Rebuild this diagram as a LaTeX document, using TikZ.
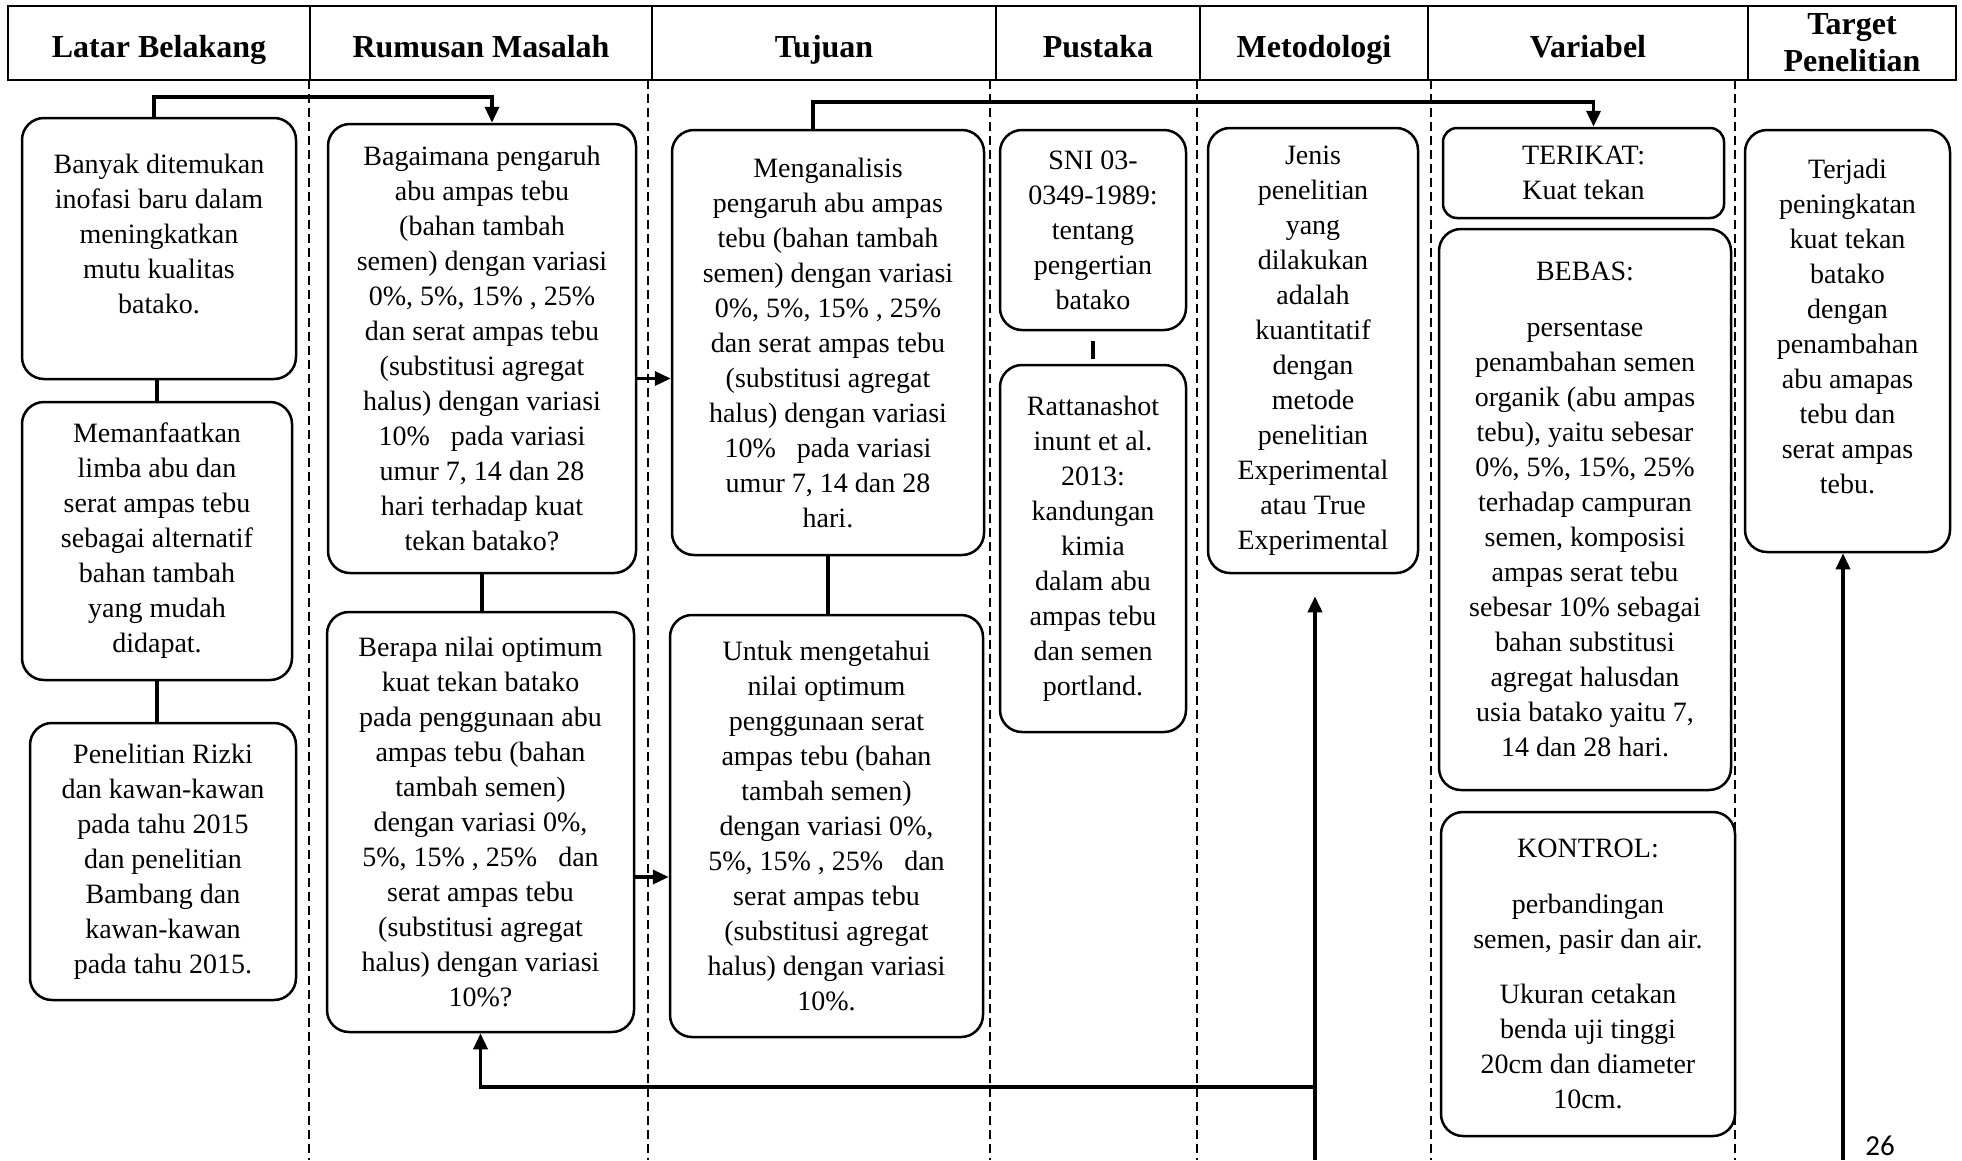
\documentclass[tikz,border=0pt]{standalone}
\usepackage{fontspec}
\setmainfont{Liberation Serif}
\newfontfamily\pagefont{Carlito}
\usetikzlibrary{arrows.meta}

\begin{document}
\begin{tikzpicture}[x=1pt, y=-1pt,
	headbase/.style={draw, line width=2.5pt, inner sep=0pt, minimum height=74pt, align=center, font=\fontsize{32}{37}\selectfont\bfseries},
	head/.style={headbase, text height=32pt, text depth=4pt},
	box/.style={draw, line width=2.5pt, rounded corners=22pt, inner sep=0pt, align=center, font=\fontsize{28}{35}\selectfont},
	link/.style={line width=3.5pt},
	conn/.style={line width=3.5pt, -{Triangle[length=16pt, width=14pt]}},
	col/.style={line width=1.5pt, dash pattern=on 9pt off 5pt}]
	\useasboundingbox (0,0) rectangle (1962,1160);
	\foreach \x in {309,648,990,1197,1431,1735}
		\draw[col] (\x,80) -- (\x,1160);
	\node[head, minimum width=302pt] (hlb) at (159,43) {Latar Belakang};
	\node[head, minimum width=342pt] (hrm) at (481,43) {Rumusan Masalah};
	\node[head, minimum width=344pt] (htj) at (824,43) {Tujuan};
	\node[head, minimum width=204pt] (hpk) at (1098,43) {Pustaka};
	\node[head, minimum width=228pt] (hmt) at (1314,43) {Metodologi};
	\node[head, minimum width=320pt] (hvr) at (1588,43) {Variabel};
	\node[headbase, minimum width=208pt] (htg) at (1852,43) {Target\\Penelitian};
	\node[box, minimum width=274pt, minimum height=261pt] (lb1) at (159,248.5) {Banyak ditemukan\\inofasi baru dalam\\meningkatkan\\mutu kualitas\\batako.\\[-5pt]\mbox{}};
	\node[box, minimum width=270pt, minimum height=278pt] (lb2) at (157,541) {Memanfaatkan\\limba abu dan\\serat ampas tebu\\sebagai alternatif\\bahan tambah\\yang mudah\\didapat.};
	\node[box, minimum width=266pt, minimum height=277pt] (lb3) at (163,861.5) {Penelitian Rizki\\dan kawan-kawan\\pada tahu 2015\\dan penelitian\\Bambang dan\\kawan-kawan\\pada tahu 2015.};
	\node[box, minimum width=308pt, minimum height=449pt] (rm1) at (482,348.5) {Bagaimana pengaruh\\abu ampas tebu\\(bahan tambah\\semen) dengan variasi\\0\%, 5\%, 15\% , 25\%\\dan serat ampas tebu\\(substitusi agregat\\halus) dengan variasi\\10\%~~ pada variasi\\umur 7, 14 dan 28\\hari terhadap kuat\\tekan batako?};
	\node[box, minimum width=307pt, minimum height=420pt] (rm2) at (480.5,822) {Berapa nilai optimum\\kuat tekan batako\\pada penggunaan abu\\ampas tebu (bahan\\tambah semen)\\dengan variasi 0\%,\\5\%, 15\% , 25\%~~~dan\\serat ampas tebu\\(substitusi agregat\\halus) dengan variasi\\10\%?};
	\node[box, minimum width=312pt, minimum height=425pt] (tj1) at (828,342.5) {Menganalisis\\pengaruh abu ampas\\tebu (bahan tambah\\semen) dengan variasi\\0\%, 5\%, 15\% , 25\%\\dan serat ampas tebu\\(substitusi agregat\\halus) dengan variasi\\10\%~~ pada variasi\\umur 7, 14 dan 28\\hari.};
	\node[box, minimum width=313pt, minimum height=422pt] (tj2) at (826.5,826) {Untuk mengetahui\\nilai optimum\\penggunaan serat\\ampas tebu (bahan\\tambah semen)\\dengan variasi 0\%,\\5\%, 15\% , 25\%~~~dan\\serat ampas tebu\\(substitusi agregat\\halus) dengan variasi\\10\%.};
	\node[box, minimum width=186pt, minimum height=200pt] (pk1) at (1093,230) {SNI 03-\\0349-1989:\\tentang\\pengertian\\batako};
	\node[box, minimum width=186pt, minimum height=367pt] (pk2) at (1093,548.5) {Rattanashot\\inunt et al.\\2013:\\kandungan\\kimia\\dalam abu\\ampas tebu\\dan semen\\portland.};
	\node[box, minimum width=210pt, minimum height=445pt] (mt) at (1313,350.5) {Jenis\\penelitian\\yang\\dilakukan\\adalah\\kuantitatif\\dengan\\metode\\penelitian\\Experimental\\atau True\\Experimental};
	\node[box, rounded corners=14pt, minimum width=281pt, minimum height=90pt] (vr1) at (1583.5,173) {TERIKAT:\\Kuat tekan};
	\node[box, minimum width=292pt, minimum height=561pt] (vr2) at (1585,509.5) {BEBAS:\\[21pt]persentase\\penambahan semen\\organik (abu ampas\\tebu), yaitu sebesar\\0\%, 5\%, 15\%, 25\%\\terhadap campuran\\semen, komposisi\\ampas serat tebu\\sebesar 10\% sebagai\\bahan substitusi\\agregat halusdan\\usia batako yaitu 7,\\14 dan 28 hari.};
	\node[box, minimum width=294pt, minimum height=324pt] (vr3) at (1588,974) {KONTROL:\\[21pt]perbandingan\\semen, pasir dan air.\\[20pt]Ukuran cetakan\\benda uji tinggi\\20cm dan diameter\\10cm.};
	\node[box, minimum width=205pt, minimum height=422pt] (tg) at (1847.5,341) {Terjadi\\peningkatan\\kuat tekan\\batako\\dengan\\penambahan\\abu amapas\\tebu dan\\serat ampas\\tebu.\\[-5pt]\mbox{}};
	\node[font=\pagefont\fontsize{29}{30}\selectfont] (pg) at (1880,1146) {26};
	\coordinate (mb) at (1315,1160);
	\coordinate (mj) at (1315,1087);
	\coordinate (gb) at (1843,1160);
	\draw[conn] ([xshift=-5pt]lb1.north) -- ++(0,-20) -| ([xshift=10pt]rm1.north);
	\draw[link] (lb2.north |- lb1.south) -- (lb2.north);
	\draw[link] (lb2.south) -- (lb2.south |- lb3.north);
	\draw[link] (rm1.south) -- (rm1.south |- rm2.north);
	\draw[conn] ([yshift=-30pt]rm1.east) -- ([yshift=-30pt]rm1.east -| tj1.west);
	\draw[conn] ([yshift=-55pt]rm2.east) -- ([yshift=-55pt]rm2.east -| tj2.west);
	\draw[link] (tj1.south) -- (tj1.south |- tj2.north);
	\draw[conn] ([xshift=-15pt]tj1.north) -- ++(0,-27) -| ([xshift=10pt]vr1.north);
	\draw[link, shorten <=10pt, shorten >=5pt] (pk1.south) -- (pk1.south |- pk2.north);
	\draw[conn, shorten >=22pt] (mb) -- (mb |- mt.south);
	\draw[conn] (mj) -| (rm2.south);
	\draw[conn] (gb) -- (gb |- tg.south);
\end{tikzpicture}
\end{document}
